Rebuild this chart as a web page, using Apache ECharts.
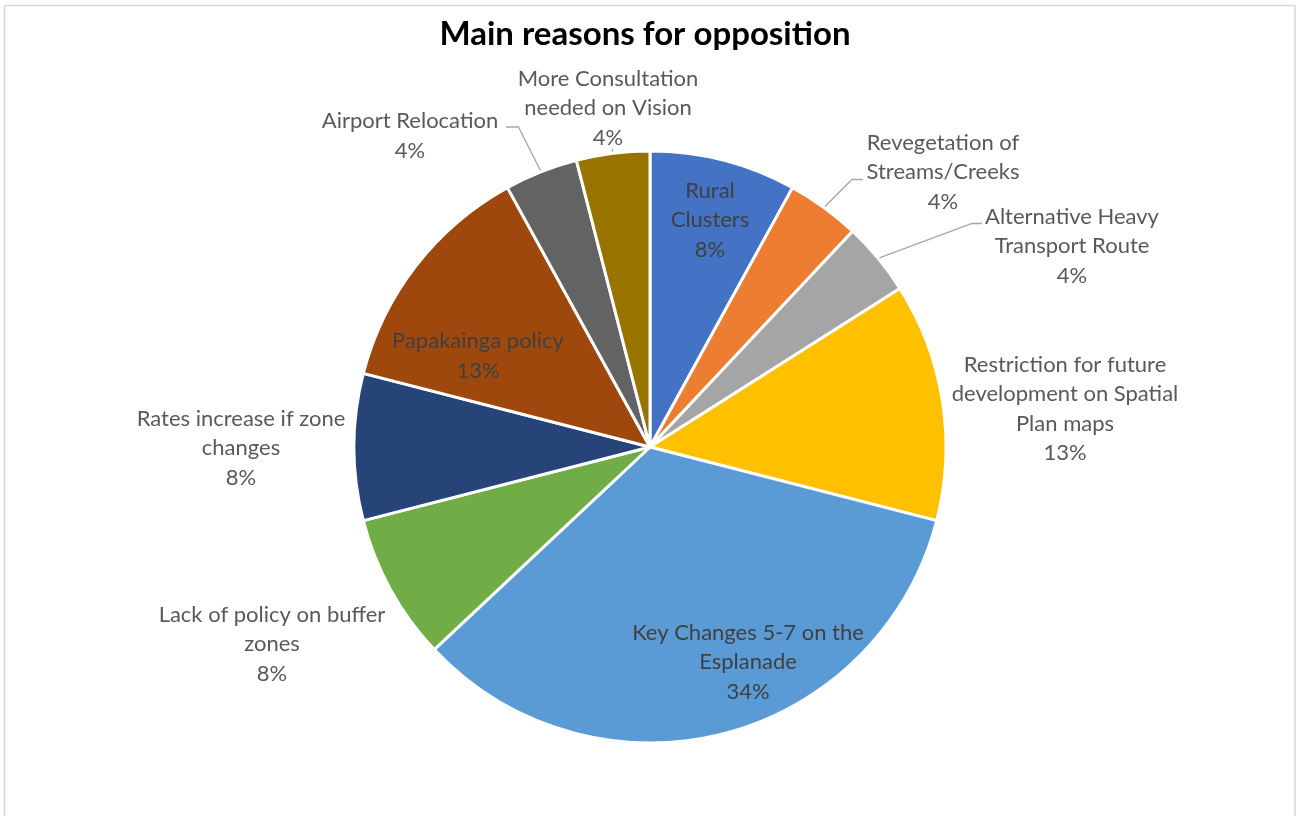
<!DOCTYPE html>
<html>
<head>
<meta charset="utf-8">
<title>Main reasons for opposition</title>
<script src="https://cdn.jsdelivr.net/npm/echarts@6/dist/echarts.min.js"></script>
<style>
  html, body { margin: 0; padding: 0; background: #ffffff; }
  #chart { width: 1301px; height: 816px; }
</style>
</head>
<body>
<div id="chart"></div>
<script>
// Reasons given for opposing the plan (labels wrap where they break on the chart)
const reasons = [
  'Rural\nClusters',
  'Revegetation of\nStreams/Creeks',
  'Alternative Heavy\nTransport Route',
  'Restriction for future\ndevelopment on Spatial\nPlan maps',
  'Key Changes 5-7 on the\nEsplanade',
  'Lack of policy on buffer\nzones',
  'Rates increase if zone\nchanges',
  'Papakainga policy',
  'Airport Relocation',
  'More Consultation\nneeded on Vision'
];
// Share of respondents, percent
const shares = [8, 4, 4, 13, 34, 8, 8, 13, 4, 4];

const sliceColors = ['#4472C4', '#ED7D31', '#A5A5A5', '#FFC000', '#5B9BD5',
                     '#70AD47', '#264478', '#9E480E', '#636363', '#997300'];

// Which labels sit on the slice itself
const insideLabel = [true, false, false, false, true, false, false, true, false, false];

// Label block centres (px) and leader-line bend/end points for the labels that have one
const labelSpots = [
  [710, 220], [943, 172], [1072, 246], [1065, 409], [748, 662],
  [272, 644], [241, 448], [478, 356], [410, 136], [608, 108]
];
const leaderBends = {
  1: [[852, 179.5], [863, 179.5]],
  2: [[972, 223.5], [982, 223.5]],
  8: [[518.5, 127], [506, 127]],
  9: [[612, 149]]
};

const PIE_CX = 650, PIE_CY = 447, PIE_R = 296;
const FONT = 'Lato, "Open Sans", "Liberation Sans", sans-serif';

const chart = echarts.init(document.getElementById('chart'), null, { renderer: 'canvas' });

const data = reasons.map((name, i) => ({
  name: name,
  value: shares[i],
  itemStyle: { color: sliceColors[i] },
  label: {
    position: insideLabel[i] ? 'inside' : 'outside',
    color: insideLabel[i] ? '#404040' : '#595959'
  },
  labelLine: { show: !!leaderBends[i] }
}));

chart.setOption({
  backgroundColor: '#ffffff',
  animation: false,
  title: {
    text: 'Main reasons for opposition',
    left: 640,
    top: 13,
    textAlign: 'center',
    textStyle: {
      fontFamily: FONT,
      fontWeight: 'bold',
      fontSize: 33,
      color: '#000000'
    }
  },
  graphic: [{
    type: 'rect',
    shape: { x: 4.5, y: 5.5, width: 1290.5, height: 830 },
    style: { fill: 'none', stroke: '#d9d9d9', lineWidth: 1.6 },
    silent: true,
    z: -1
  }],
  series: [{
    type: 'pie',
    center: [PIE_CX, PIE_CY],
    radius: PIE_R,
    startAngle: 90,
    clockwise: true,
    avoidLabelOverlap: false,
    itemStyle: { borderColor: '#ffffff', borderWidth: 3 },
    label: {
      show: true,
      formatter: '{b}\n{c}%',
      fontFamily: FONT,
      fontSize: 22,
      lineHeight: 29.5
    },
    labelLine: {
      length: 20,
      length2: 10,
      lineStyle: { color: '#a6a6a6', width: 1.3 }
    },
    labelLayout: function (p) {
      const spot = labelSpots[p.dataIndex];
      const out = { x: spot[0], y: spot[1], align: 'center', verticalAlign: 'middle' };
      const bend = leaderBends[p.dataIndex];
      if (bend && p.labelLinePoints) {
        out.labelLinePoints = [p.labelLinePoints[0]].concat(bend);
      }
      return out;
    },
    data: data
  }]
});
</script>
</body>
</html>
